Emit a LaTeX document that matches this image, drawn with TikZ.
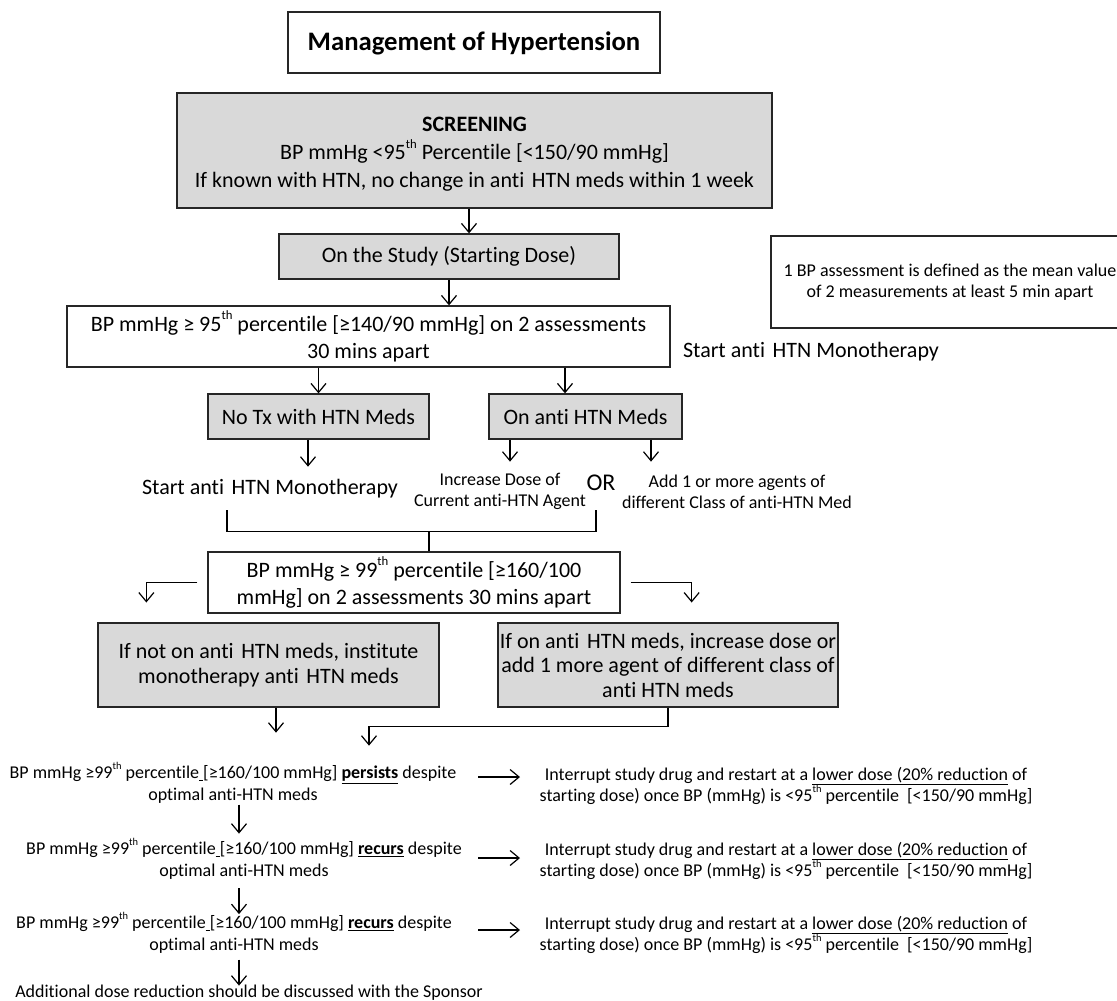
\documentclass[tikz,border=0pt]{standalone}
\usepackage{fontspec}
\setmainfont{Carlito}[Ligatures={NoCommon}]
\usetikzlibrary{arrows.meta,calc}
\definecolor{boxgray}{HTML}{D9D9D9}
\definecolor{edgecol}{HTML}{262626}
\newcommand\myfmain{\fontsize{22}{27}\selectfont}
\newcommand\myfscreen{\fontsize{22}{28}\selectfont}
\newcommand\myfgray{\fontsize{22}{24.5}\selectfont}
\newcommand\myfsmall{\fontsize{18}{21.3}\selectfont}
\newcommand\myftitle{\fontsize{26.7}{32}\selectfont\bfseries}
\newcommand\thsup{\raisebox{0.52em}{\scalebox{0.58}{th}}}
\newcommand\gap{\hspace{0.12em} }
\tikzset{
  box/.style={draw=edgecol, line width=1.3pt, fill=white, inner sep=0pt, align=center, font=\myfmain},
  gbox/.style={box, fill=boxgray},
  lbl/.style={inner sep=0pt, align=center, font=\myfmain},
  slbl/.style={inner sep=0pt, align=center, font=\myfsmall},
  arr/.style={-{Straight Barb[length=9pt,width=15pt]}, line width=1.2pt},
  ln/.style={line width=1.2pt}
}
\begin{document}
\begin{tikzpicture}[x=1pt,y=-1pt]
\useasboundingbox (0,0) rectangle (1117,1001);
% boxes
\node[box, minimum width=372pt, minimum height=61pt, font=\myftitle] (title) at (474,42.5) {\rule{0pt}{20pt}Management of Hypertension};
\node[gbox, minimum width=595pt, minimum height=115pt, font=\myfscreen] (screen) at (474.5,150.5)
  {\rule{0pt}{22pt}\textbf{SCREENING}\\BP mmHg <95\thsup{} Percentile [<150/90 mmHg]\\If known with HTN, no change in anti\gap HTN meds within 1 week};
\node[gbox, minimum width=340pt, minimum height=45pt] (study) at (449,256.5) {On the Study (Starting Dose)};
\node[box, minimum width=358pt, minimum height=92pt, font=\myfsmall] (note) at (950,282)
  {1 BP assessment is defined as the mean value\\of 2 measurements at least 5 min apart};
\node[box, minimum width=603pt, minimum height=61pt] (bp95) at (368.5,336.5)
  {BP mmHg ≥ 95\thsup{} percentile [≥140/90 mmHg] on 2 assessments\\30 mins apart};
\node[lbl] (start2) at (811,352) {Start anti\gap HTN Monotherapy};
\node[gbox, minimum width=221pt, minimum height=45pt] (notx) at (318.5,416.5) {No Tx with HTN Meds};
\node[gbox, minimum width=193pt, minimum height=45pt] (onanti) at (585.5,416.5) {On anti HTN Meds};
\node[lbl] (start1) at (270,489) {Start anti\gap HTN Monotherapy};
\node[slbl] (incr) at (500,491.5) {Increase Dose of\\Current anti-HTN Agent};
\node[lbl, font=\fontsize{24}{28}\selectfont] (orl) at (601,483) {OR};
\node[slbl] (addl) at (737,491.5) {Add 1 or more agents of\\different Class of anti-HTN Med};
\node[box, minimum width=412pt, minimum height=61pt] (bp99) at (414,582.5)
  {BP mmHg ≥ 99\thsup{} percentile [≥160/100\\mmHg] on 2 assessments 30 mins apart};
\node[gbox, minimum width=341pt, minimum height=84pt, font=\myfgray] (lgray) at (268.5,665)
  {If not on anti\gap HTN meds, institute\\monotherapy anti\gap HTN meds};
\node[gbox, minimum width=340pt, minimum height=84pt, font=\myfgray] (rgray) at (668,665)
  {If on anti\gap HTN meds, increase dose or\\add 1 more agent of different class of\\anti HTN meds};
% lower texts
\node[slbl] (pers) at (233,782.5) {BP mmHg ≥99\thsup{} percentile\underline{\ }[≥160/100 mmHg] \textbf{\underline{persists}} despite\\optimal anti-HTN meds};
\node[slbl] (int1) at (786,786) {Interrupt study drug and restart at a \underline{lower dose (20\% reduction} of\\starting dose) once BP (mmHg) is <95\thsup{} percentile~ [<150/90 mmHg]};
\node[slbl] (rec1) at (244,858.5) {BP mmHg ≥99\thsup{} percentile\underline{\ }[≥160/100 mmHg] \textbf{\underline{recurs}} despite\\optimal anti-HTN meds};
\node[slbl] (int2) at (786,861) {Interrupt study drug and restart at a \underline{lower dose (20\% reduction} of\\starting dose) once BP (mmHg) is <95\thsup{} percentile~ [<150/90 mmHg]};
\node[slbl] (rec2) at (234,932.5) {BP mmHg ≥99\thsup{} percentile\underline{\ }[≥160/100 mmHg] \textbf{\underline{recurs}} despite\\optimal anti-HTN meds};
\node[slbl] (int3) at (786,935) {Interrupt study drug and restart at a \underline{lower dose (20\% reduction} of\\starting dose) once BP (mmHg) is <95\thsup{} percentile~ [<150/90 mmHg]};
\node[slbl] (addit) at (249,993) {Additional dose reduction should be discussed with the Sponsor};
% connectors
\coordinate (sx) at ([xshift=-5.5pt]screen.south);
\draw[arr] (sx) -- (sx |- study.north);
\draw[arr] (study.south) -- (study.south |- bp95.north);
\draw[arr] (notx.north |- bp95.south) -- (notx.north);
\coordinate (oa) at ([xshift=-20.5pt]onanti.north);
\draw[arr] (oa |- bp95.south) -- (oa);
\draw[arr] ([xshift=-10.5pt]notx.south) -- ++(0,27);
\draw[arr] ([xshift=-75.5pt]onanti.south) -- ++(0,22);
\draw[arr] ([xshift=65.5pt]onanti.south) -- ++(0,22);
% bracket
\coordinate (bl) at ([shift={(-187,-41)}]bp99.north);
\coordinate (br) at ([shift={(182,-41)}]bp99.north);
\draw[ln] (bl) -- ++(0,21) -| (br);
\coordinate (stem) at ([xshift=15pt]bp99.north);
\draw[ln] (stem) -- ++(0,-20);
% bp99 sides
\draw[arr] ([xshift=-10pt]bp99.west) -| ++(-51,20);
\draw[arr] ([xshift=10pt]bp99.east) -| ++(61,20);
% gray boxes down
\draw[arr] ([xshift=7.5pt]lgray.south) -- ++(0,25);
\draw[arr] (rgray.south) -- ++(0,19) -- ++(-299,0) -- ++(0,19);
% lower chain
\draw[arr] ([shift={(-61.5,-9)}]int1.west) -- ++(42,0);
\draw[arr] ([shift={(-61.5,-3)}]int2.west) -- ++(42,0);
\draw[arr] ([shift={(-61.5,-5)}]int3.west) -- ++(42,0);
\draw[arr] ([shift={(6,1.5)}]pers.south) -- ++(0,29);
\draw[arr] ([shift={(-5,9)}]rec1.south) -- ++(0,26);
\draw[arr] ([shift={(5,6.5)}]rec2.south) -- ++(0,26);
\end{tikzpicture}
\end{document}
